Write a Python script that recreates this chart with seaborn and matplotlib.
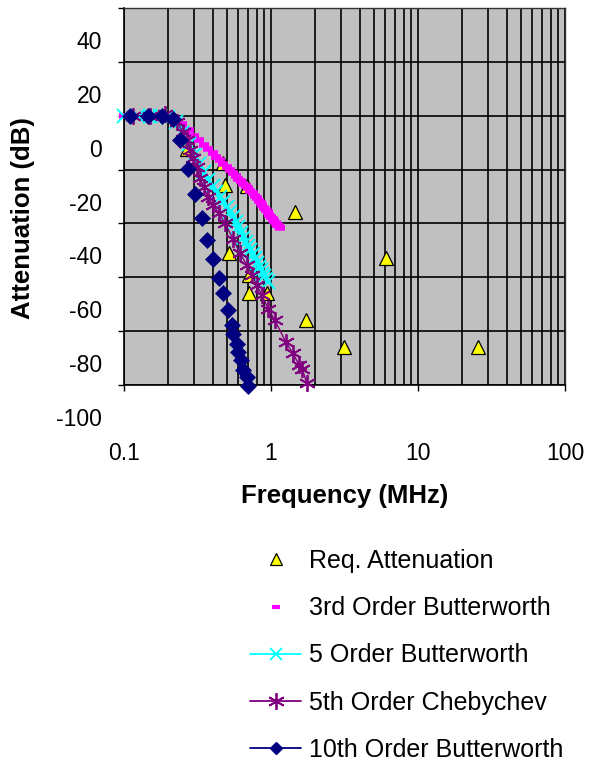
import matplotlib
matplotlib.use("Agg")
import matplotlib.pyplot as plt
import matplotlib.transforms as mtransforms
from matplotlib.lines import Line2D
from matplotlib.ticker import LogLocator, NullFormatter
import pandas as pd
import seaborn as sns

# Req. Attenuation (tam giac vang)
req_freq = [0.268, 0.470, 0.486, 0.687, 1.46, 0.518, 0.708, 0.708, 0.938, 1.73, 6.05, 3.14, 25.6]
req_db = [-12.5, -17.7, -25.8, -26.2, -35.9, -51.1, -59.3, -66.0, -66.0, -76.0, -53.0, -86.0, -86.0]

# 3rd Order Butterworth
bw3_freq = [0.100, 0.125, 0.150, 0.175, 0.200, 0.225, 0.250, 0.275, 0.300, 0.325,
            0.350, 0.375, 0.400, 0.425, 0.450, 0.475, 0.500, 0.525, 0.550, 0.575,
            0.600, 0.625, 0.650, 0.675, 0.700, 0.725, 0.750, 0.775, 0.800, 0.825,
            0.850, 0.875, 0.900, 0.925, 0.950, 0.975, 1.000, 1.025, 1.050, 1.075,
            1.100, 1.125, 1.150]
bw3_db = [0.0, 0.0, 0.0, -0.1, -0.4, -1.2, -3.0, -5.2, -7.5, -9.2,
          -10.8, -12.3, -13.8, -15.2, -16.5, -17.8, -19.1, -20.3, -21.4, -22.4,
          -23.4, -24.3, -25.2, -26.1, -27.0, -27.9, -28.8, -29.7, -30.6, -31.5,
          -32.4, -33.3, -34.2, -35.1, -35.9, -36.7, -37.5, -38.3, -39.0, -39.7,
          -40.4, -41.0, -41.6]

# 5 Order Butterworth
bw5_freq = [0.100, 0.125, 0.150, 0.175, 0.200, 0.225, 0.250, 0.275, 0.300, 0.325,
            0.350, 0.375, 0.400, 0.425, 0.450, 0.475, 0.500, 0.525, 0.550, 0.575,
            0.600, 0.625, 0.650, 0.675, 0.700, 0.725, 0.750, 0.775, 0.800, 0.825,
            0.850, 0.875, 0.900, 0.925, 0.950]
bw5_db = [0.0, 0.0, 0.0, 0.0, -0.6, -2.5, -6.5, -10.5, -14.5, -18.0,
          -21.0, -23.7, -26.2, -28.2, -30.0, -31.9, -33.8, -35.8, -37.7, -39.6,
          -41.5, -43.4, -45.5, -47.0, -48.5, -50.0, -51.5, -53.0, -54.6, -56.0,
          -57.4, -58.6, -59.7, -60.8, -61.9]

# 5th Order Chebychev
cheb_freq = [0.115, 0.150, 0.190, 0.230, 0.252, 0.268, 0.281, 0.295, 0.314, 0.329,
             0.350, 0.373, 0.403, 0.443, 0.486, 0.551, 0.615, 0.687, 0.743, 0.803,
             0.869, 0.955, 1.064, 1.264, 1.411, 1.550, 1.625, 1.758]
cheb_db = [0.0, 0.0, 0.5, -2.4, -6.1, -9.1, -12.8, -15.8, -19.1, -23.2,
           -26.6, -30.3, -33.3, -36.2, -40.0, -45.6, -51.1, -55.6, -59.3, -63.0,
           -66.7, -71.6, -76.0, -84.2, -88.3, -92.4, -93.9, -99.4]

# 10th Order Butterworth
bw10_freq = [0.110, 0.146, 0.182, 0.215, 0.240, 0.272, 0.304, 0.340, 0.367, 0.403,
             0.442, 0.471, 0.509, 0.543, 0.551, 0.587, 0.597, 0.625, 0.645, 0.687,
             0.698]
bw10_db = [0.0, 0.0, 0.0, -1.3, -9.1, -19.9, -29.2, -38.1, -46.3, -53.3,
           -60.4, -66.0, -72.3, -77.9, -80.9, -84.6, -87.9, -90.9, -94.6, -97.2,
           -100.5]

y_ticks = [-100, -80, -60, -40, -20, 0, 20, 40]
x_ticks = [0.1, 1, 10, 100]
x_tick_labels = ['0.1', '1', '10', '100']

C_REQ = '#FFFF00'
C_BW3 = '#FF00FF'
C_BW5 = '#00FFFF'
C_CHEB = '#800080'
C_BW10 = '#000080'
ASTERISK = (6, 2, 0)

sns.set_theme(style="white")
plt.rcParams['font.family'] = ['Liberation Sans', 'DejaVu Sans']
plt.rcParams['text.color'] = 'black'

fig = plt.figure(figsize=(5.93, 7.63), dpi=100)
ax = fig.add_axes([124 / 593, 1 - 385 / 763, 441 / 593, 377 / 763])
ax.set_facecolor('#C0C0C0')

df_req = pd.DataFrame({'f': req_freq, 'db': req_db})
df_bw3 = pd.DataFrame({'f': bw3_freq, 'db': bw3_db})
df_bw5 = pd.DataFrame({'f': bw5_freq, 'db': bw5_db})
df_cheb = pd.DataFrame({'f': cheb_freq, 'db': cheb_db})
df_bw10 = pd.DataFrame({'f': bw10_freq, 'db': bw10_db})

common = dict(x='f', y='db', estimator=None, sort=False, legend=False, ax=ax, clip_on=False)

# Ve theo thu tu cac series (nhu Excel)
sns.lineplot(data=df_req, linestyle='', marker='^', markersize=9.5,
             markerfacecolor=C_REQ, markeredgecolor='black', markeredgewidth=0.9,
             color=C_REQ, zorder=3, **common)
sns.lineplot(data=df_bw3, linestyle='', marker='_', markersize=6.5,
             markeredgewidth=4, markeredgecolor=C_BW3, color=C_BW3, zorder=4, **common)
sns.lineplot(data=df_bw5, linestyle='-', linewidth=2.5, marker='x', markersize=10,
             markeredgewidth=1.4, markeredgecolor=C_BW5, color=C_BW5, zorder=5, **common)
sns.lineplot(data=df_cheb, linestyle='-', linewidth=1.0, marker=ASTERISK, markersize=12,
             markeredgewidth=1.3, markeredgecolor=C_CHEB, color=C_CHEB, zorder=6, **common)
sns.lineplot(data=df_bw10, linestyle='', marker='D', markersize=8,
             markerfacecolor=C_BW10, markeredgecolor=C_BW10, markeredgewidth=0.5,
             color=C_BW10, zorder=7, **common)

ax.set_xscale('log')
ax.set_xlim(0.1, 100)
ax.set_ylim(-100, 40)
ax.set_xticks(x_ticks)
ax.set_xticklabels(x_tick_labels)
ax.xaxis.set_minor_locator(LogLocator(base=10, subs=range(2, 10)))
ax.xaxis.set_minor_formatter(NullFormatter())
ax.set_yticks(y_ticks)
ax.set_yticklabels([str(v) for v in y_ticks])

ax.set_axisbelow(True)
ax.grid(True, which='major', axis='both', color='black', linewidth=1.2)
ax.grid(True, which='minor', axis='x', color='black', linewidth=1.2)

ax.tick_params(axis='y', which='major', left=True, direction='out', length=4,
               width=1, color='black', pad=12, labelsize=16.5, labelcolor='black')
ax.tick_params(axis='x', which='major', bottom=True, direction='out', length=4,
               width=1, color='black', pad=37, labelsize=16.5, labelcolor='black')
ax.tick_params(axis='x', which='minor', length=0)

for side in ['left', 'bottom']:
    ax.spines[side].set_color('black')
    ax.spines[side].set_linewidth(1.2)
for side in ['top', 'right']:
    ax.spines[side].set_color('#333333')
    ax.spines[side].set_linewidth(1.0)

# Nhan truc y bi lech xuong (giong anh goc)
offset = mtransforms.ScaledTranslation(0, -32 / 100, fig.dpi_scale_trans)
for lab in ax.get_yticklabels():
    lab.set_transform(lab.get_transform() + offset)

ax.set_xlabel('Frequency (MHz)', fontsize=18.5, fontweight='bold', color='black')
ax.set_ylabel('Attenuation (dB)', fontsize=18.5, fontweight='bold', color='black')
ax.xaxis.set_label_coords(0.5, -0.263)
ax.yaxis.set_label_coords(-0.202, 0.443)

handles = [
    Line2D([], [], linestyle='', marker='^', markersize=9, markerfacecolor=C_REQ,
           markeredgecolor='black', markeredgewidth=0.9),
    Line2D([], [], linestyle='', marker='_', markersize=6, markeredgewidth=3, color=C_BW3),
    Line2D([], [], color=C_BW5, linewidth=1.3, marker='x', markersize=9, markeredgewidth=1.3),
    Line2D([], [], color=C_CHEB, linewidth=1.3, marker=ASTERISK, markersize=12, markeredgewidth=1.3),
    Line2D([], [], color=C_BW10, linewidth=1.3, marker='D', markersize=6.5),
]
labels = ['Req. Attenuation', '3rd Order Butterworth', '5 Order Butterworth',
          '5th Order Chebychev', '10th Order Butterworth']
fig.legend(handles, labels, loc='upper left', bbox_to_anchor=(250 / 593, 1 - 549 / 763),
           frameon=False, fontsize=18, handlelength=2.05, handletextpad=0.3,
           labelspacing=0.93, borderpad=0, borderaxespad=0, numpoints=1,
           labelcolor='black')

fig.savefig('out.png', dpi=100)
